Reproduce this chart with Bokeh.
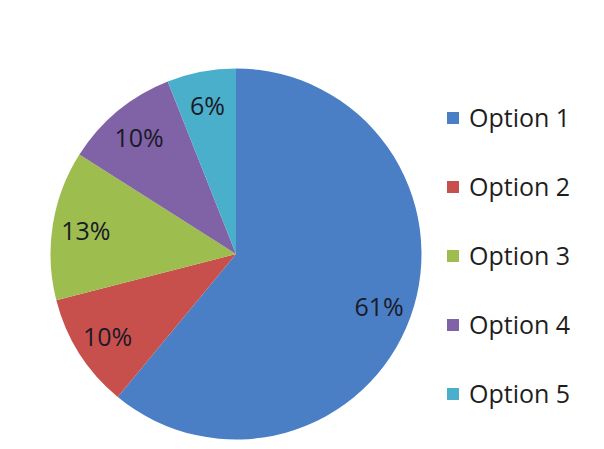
import math
from bokeh.plotting import figure
from bokeh.models import Range1d, ColumnDataSource, Legend, LegendItem
from bokeh.core.properties import value
from bokeh.embed import file_html
from bokeh.resources import INLINE

categories = ["Option 1", "Option 2", "Option 3", "Option 4", "Option 5"]
percents = [61, 10, 13, 10, 6]
colors = ["#4A7FC6", "#C8504C", "#9DBD4F", "#8062A6", "#4AAFCB"]

W, H = 604, 449
CX, CY, R = 235.5, 449 - 253.5, 185.5
LABEL_R = 0.82 * R

total = float(sum(percents))
starts, ends, lx, ly, labels = [], [], [], [], []
cum = 0.0
for v in percents:
    a0 = math.pi / 2 - 2 * math.pi * cum / total
    cum += v
    a1 = math.pi / 2 - 2 * math.pi * cum / total
    starts.append(a0)
    ends.append(a1)
    mid = (a0 + a1) / 2
    lx.append(CX + LABEL_R * math.cos(mid))
    ly.append(CY + LABEL_R * math.sin(mid))
    labels.append(f"{v}%")

src = ColumnDataSource(dict(cat=categories, start=starts, end=ends, color=colors,
                            lx=lx, ly=ly, label=labels))

p = figure(width=W, height=H, x_range=Range1d(0, W), y_range=Range1d(0, H),
           output_backend="svg", toolbar_location=None, min_border=0)
p.axis.visible = False
p.grid.visible = False
p.outline_line_color = None
p.background_fill_color = "white"
p.border_fill_color = "white"

r = p.wedge(x=CX, y=CY, radius=R, start_angle="start", end_angle="end",
            direction="clock", fill_color="color", line_color=None, source=src)

p.text(x="lx", y="ly", text="label", source=src, text_align="center",
       text_baseline="middle", text_font=value("Open Sans"),
       text_font_size="25px", text_color="#1a1a28")

items = [LegendItem(label=c, renderers=[r], index=i) for i, c in enumerate(categories)]
legend = Legend(items=items, location=(445, 39), orientation="vertical",
                glyph_width=15, glyph_height=15, label_standoff=9,
                spacing=35, padding=6, margin=0,
                label_text_font="Open Sans", label_text_font_size="25px",
                label_text_color="#1e1e1e", label_height=34,
                border_line_color=None, background_fill_alpha=0)
p.add_layout(legend)

open("out.html", "w").write(file_html(p, INLINE))
